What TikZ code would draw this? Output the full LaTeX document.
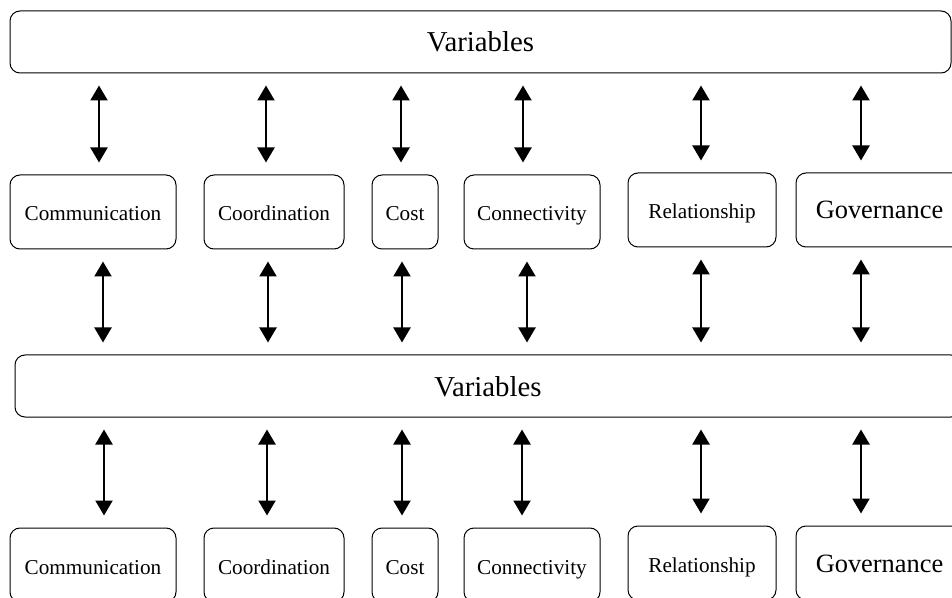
\documentclass[tikz,border=0pt]{standalone}
\usepackage{fontspec}
\setmainfont{Liberation Serif}
\usetikzlibrary{arrows.meta}
\tikzset{box/.style = {draw, rounded corners=5pt, line width=0.5pt, inner sep=0pt,
                       minimum height=37pt, text height=11pt, text depth=2pt,
                       font=\fontsize{10.6}{13}\selectfont},
         bar/.style = {box, minimum height=31pt, text height=12pt, text depth=2pt,
                       font=\fontsize{14.4}{17}\selectfont},
         link/.style = {{Triangle[length=7.5pt,width=8.5pt]}-{Triangle[length=7.5pt,width=8.5pt]},
                        line width=1.1pt, shorten >=6pt, shorten <=6pt}}

\begin{document}
\begin{tikzpicture}[x=0.5pt, y=-0.5pt]
    \useasboundingbox (0, 0) rectangle (952, 598);
    \clip (0, 0) rectangle (952, 598);

    \node [bar, minimum width=470.5pt] (var1) at (480.5, 42) {Variables};
    \node [bar, minimum width=473pt] (var2) at (488, 386) {Variables};

    \node [box, minimum width=83pt] (comm1) at (93, 212) {Communication};
    \node [box, minimum width=70pt] (coord1) at (274, 212) {Coordination};
    \node [box, minimum width=33pt] (cost1) at (405, 212) {Cost};
    \node [box, minimum width=68pt] (conn1) at (532, 212) {Connectivity};
    \node [box, minimum width=74pt] (rel1) at (702, 210) {Relationship};
    \node [box, minimum width=83.5pt, font=\fontsize{13.2}{16}\selectfont] (gov1) at (879.5, 210) {Governance};

    \node [box, minimum width=83pt] (comm2) at (93, 565) {Communication};
    \node [box, minimum width=70pt] (coord2) at (274, 565) {Coordination};
    \node [box, minimum width=33pt] (cost2) at (405, 565) {Cost};
    \node [box, minimum width=68pt] (conn2) at (532, 565) {Connectivity};
    \node [box, minimum width=74pt] (rel2) at (702, 563) {Relationship};
    \node [box, minimum width=83.5pt, font=\fontsize{13.2}{16}\selectfont] (gov2) at (879.5, 563) {Governance};

    \draw [link] (var1.south -| 99,0) -- (comm1.north -| 99,0);
    \draw [link] (var1.south -| 266,0) -- (coord1.north -| 266,0);
    \draw [link] (var1.south -| 401,0) -- (cost1.north -| 401,0);
    \draw [link] (var1.south -| 523,0) -- (conn1.north -| 523,0);
    \draw [link] (var1.south -| 701,0) -- (rel1.north -| 701,0);
    \draw [link] (var1.south -| 861,0) -- (gov1.north -| 861,0);

    \draw [link] (comm1.south -| 103,0) -- (var2.north -| 103,0);
    \draw [link] (coord1.south -| 268,0) -- (var2.north -| 268,0);
    \draw [link] (cost1.south -| 402,0) -- (var2.north -| 402,0);
    \draw [link] (conn1.south -| 527,0) -- (var2.north -| 527,0);
    \draw [link] (rel1.south -| 701,0) -- (var2.north -| 701,0);
    \draw [link] (gov1.south -| 861,0) -- (var2.north -| 861,0);

    \draw [link] (var2.south -| 104,0) -- (comm2.north -| 104,0);
    \draw [link] (var2.south -| 267,0) -- (coord2.north -| 267,0);
    \draw [link] (var2.south -| 402,0) -- (cost2.north -| 402,0);
    \draw [link] (var2.south -| 522,0) -- (conn2.north -| 522,0);
    \draw [link] (var2.south -| 701,0) -- (rel2.north -| 701,0);
    \draw [link] (var2.south -| 861,0) -- (gov2.north -| 861,0);
\end{tikzpicture}
\end{document}
